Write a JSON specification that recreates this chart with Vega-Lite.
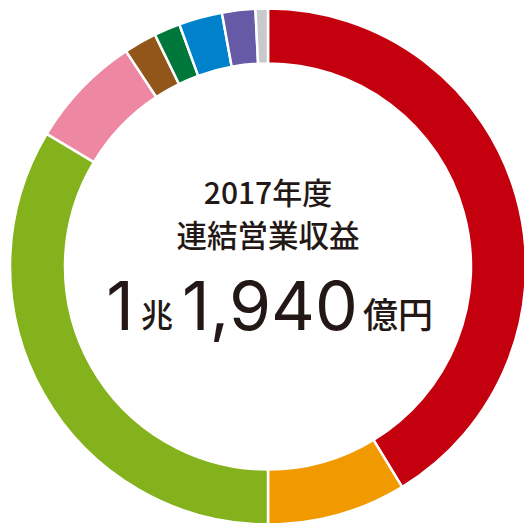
{
  "$schema": "https://vega.github.io/schema/vega-lite/v6.json",
  "autosize": "none",
  "padding": {"left": 12, "top": 10, "right": 0, "bottom": 0},
  "width": 512,
  "height": 513,
  "background": "white",
  "config": {"view": {"stroke": null}},
  "layer": [
    {
      "data": {"values": [
        {"idx": 1, "segment": "A", "value": 148.7},
        {"idx": 2, "segment": "B", "value": 31.3},
        {"idx": 3, "segment": "C", "value": 120.95},
        {"idx": 4, "segment": "D", "value": 25.65},
        {"idx": 5, "segment": "E", "value": 7.4},
        {"idx": 6, "segment": "F", "value": 5.9},
        {"idx": 7, "segment": "G", "value": 9.8},
        {"idx": 8, "segment": "H", "value": 7.5},
        {"idx": 9, "segment": "I", "value": 2.8}
      ]},
      "mark": {"type": "arc", "radius": 258, "radius2": 203, "stroke": "white", "strokeWidth": 2.5},
      "encoding": {
        "theta": {"field": "value", "type": "quantitative", "stack": true},
        "order": {"field": "idx", "type": "quantitative"},
        "color": {
          "field": "segment", "type": "nominal", "legend": null,
          "scale": {
            "domain": ["A", "B", "C", "D", "E", "F", "G", "H", "I"],
            "range": ["#C4000F", "#F09A00", "#84B21C", "#EE87A2", "#93561A", "#00773A", "#0081CC", "#6659A6", "#C8C9CB"]
          }
        }
      }
    },
    {
      "data": {"values": [{"t": "2017年度"}]},
      "mark": {"type": "text", "font": "Noto Sans CJK JP", "fontWeight": 500, "fontSize": 30, "color": "#231815", "align": "center", "baseline": "alphabetic", "dy": -63},
      "encoding": {"text": {"field": "t"}}
    },
    {
      "data": {"values": [{"t": "連結営業収益"}]},
      "mark": {"type": "text", "font": "Noto Sans CJK JP", "fontWeight": 500, "fontSize": 30.5, "color": "#231815", "align": "center", "baseline": "alphabetic", "dy": -20},
      "encoding": {"text": {"field": "t"}}
    },
    {
      "data": {"values": [{"t": "1"}]},
      "mark": {"type": "text", "font": "Inter", "fontWeight": 400, "fontSize": 68, "color": "#231815", "align": "center", "baseline": "alphabetic", "dy": 63.5, "dx": -148},
      "encoding": {"text": {"field": "t"}}
    },
    {
      "data": {"values": [{"t": "兆"}]},
      "mark": {"type": "text", "font": "Noto Sans CJK JP", "fontWeight": 500, "fontSize": 32, "color": "#231815", "align": "center", "baseline": "alphabetic", "dy": 60, "dx": -111},
      "encoding": {"text": {"field": "t"}}
    },
    {
      "data": {"values": [{"t": "1,940"}]},
      "mark": {"type": "text", "font": "Inter", "fontWeight": 400, "fontSize": 68, "color": "#231815", "align": "center", "baseline": "alphabetic", "dy": 63.5, "dx": 2},
      "encoding": {"text": {"field": "t"}}
    },
    {
      "data": {"values": [{"t": "億円"}]},
      "mark": {"type": "text", "font": "Noto Sans CJK JP", "fontWeight": 500, "fontSize": 35, "color": "#231815", "align": "center", "baseline": "alphabetic", "dy": 61, "dx": 130},
      "encoding": {"text": {"field": "t"}}
    }
  ]
}
